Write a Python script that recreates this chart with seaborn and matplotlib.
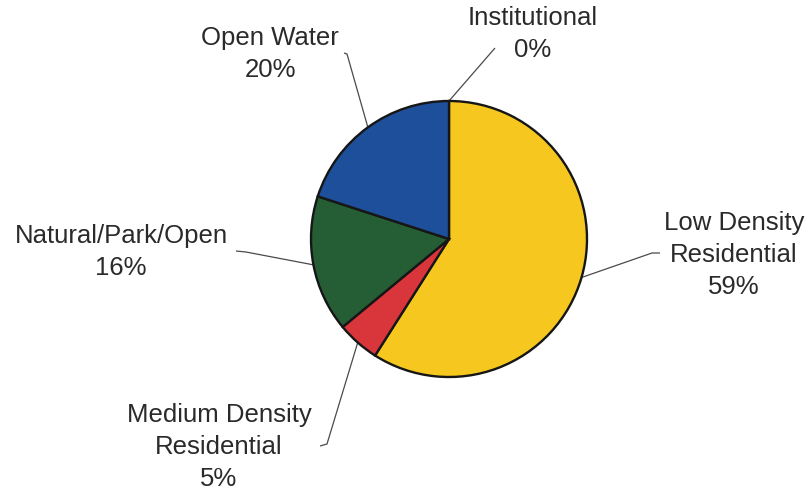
import numpy as np
import matplotlib
matplotlib.use("Agg")
import matplotlib.pyplot as plt
import seaborn as sns

# Land use shares (percent), listed clockwise from 12 o'clock
categories = ["Institutional", "Low Density\nResidential", "Medium Density\nResidential",
              "Natural/Park/Open", "Open Water"]
shares = [0, 59, 5, 16, 20]
colors = ["#8a8a8a", "#F5C71F", "#D9363B", "#255E35", "#1E4F9B"]

sns.set_theme(style="white")
plt.rcParams["font.family"] = ["Liberation Sans", "DejaVu Sans"]

W, H = 811, 493
fig = plt.figure(figsize=(W / 100, H / 100), dpi=100)
ax = fig.add_axes([0, 0, 1, 1])

def px(x, y):
    """Convert a pixel-space point (origin top-left) to axes data space."""
    return x, H - y

cx, cy = px(449, 239)
radius = 138

wedges, _ = ax.pie(
    shares, colors=colors, startangle=90, counterclock=False,
    center=(cx, cy), radius=radius,
    wedgeprops=dict(edgecolor="#161616", linewidth=1.7, antialiased=True),
)

# label block centres and leader-line elbows (pixel space)
label_pos = [(533, 34), (734, 255), (219, 447), (121, 252), (270, 54)]
leader_end = [
    [(495, 48)],
    [(652, 253), (660, 253)],
    [(327, 444), (320, 446)],
    [(246, 252), (236, 251)],
    [(347, 54), (344, 53)],
]

for wedge, name, val, (lx, ly), elbow in zip(wedges, categories, shares, label_pos, leader_end):
    mid = np.deg2rad((wedge.theta1 + wedge.theta2) / 2)
    ex, ey = cx + radius * np.cos(mid), cy + radius * np.sin(mid)
    xs = [ex] + [px(*p)[0] for p in elbow]
    ys = [ey] + [px(*p)[1] for p in elbow]
    ax.plot(xs, ys, color="#4a4a4a", lw=0.9, solid_capstyle="butt", zorder=0)
    tx, ty = px(lx, ly)
    ax.text(tx, ty, f"{name}\n{val}%", ha="center", va="center",
            fontsize=18.5, color="#2a2a2a", linespacing=1.4)

ax.set_xlim(0, W)
ax.set_ylim(0, H)
ax.set_aspect("equal")
ax.axis("off")

fig.savefig("out.png", dpi=100, facecolor="white")
